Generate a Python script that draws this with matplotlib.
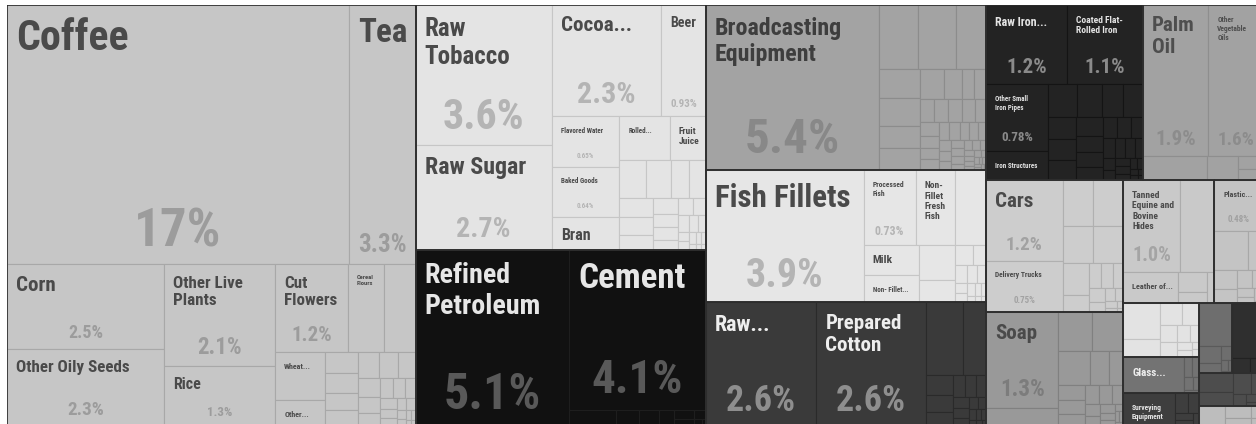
import matplotlib
matplotlib.use("Agg")
import matplotlib.pyplot as plt
from matplotlib.patches import Rectangle
from matplotlib import font_manager as fm

# ---------------- data: export shares (%) ----------------
veg_labels = ["Coffee", "Tea", "Corn", "Other Oily Seeds", "Other Live Plants", "Rice",
              "Cut Flowers", "Cereal Flours", "Wheat...", "Other..."]
veg_shares = [16.8, 3.27, 2.5, 2.3, 2.14, 1.27, 1.21, 0.60, 0.45, 0.24]
veg_small = [0.53, 0.13, 0.13, 0.11, 0.10, 0.10, 0.095, 0.085, 0.075, 0.065, 0.055, 0.05,
             0.045, 0.04, 0.035, 0.03, 0.025, 0.02, 0.02, 0.015, 0.012, 0.01, 0.008, 0.006, 0.005]

food_labels = ["Raw Tobacco", "Raw Sugar", "Cocoa...", "Beer", "Flavored Water", "Baked Goods",
               "Bran", "Rolled...", "Fruit Juice"]
food_shares = [3.6, 2.72, 2.31, 0.93, 0.65, 0.64, 0.43, 0.42, 0.30]
food_small = [0.19, 0.18, 0.13, 0.12, 0.12, 0.11, 0.095, 0.076, 0.065, 0.06, 0.05, 0.045, 0.04,
              0.035, 0.03, 0.025, 0.02, 0.018, 0.015, 0.012, 0.01, 0.008, 0.006, 0.005]

mineral_labels = ["Refined Petroleum", "Cement"]
mineral_shares = [5.12, 4.14]
mineral_small = [0.14, 0.07, 0.06, 0.045, 0.035, 0.025, 0.02, 0.01, 0.005]

machine_labels = ["Broadcasting Equipment"]
machine_shares = [5.43]
machine_small = [0.47, 0.47, 0.36, 0.22, 0.22, 0.17, 0.17, 0.14, 0.10, 0.07, 0.07, 0.065, 0.06,
                 0.06, 0.055, 0.05, 0.05, 0.045, 0.04, 0.04, 0.035, 0.035, 0.03, 0.03, 0.028,
                 0.025, 0.025, 0.022, 0.02, 0.02, 0.018, 0.016, 0.015, 0.014, 0.012, 0.012, 0.01,
                 0.01, 0.009, 0.008, 0.007, 0.006, 0.005, 0.005, 0.004, 0.004, 0.003, 0.003]

animal_labels = ["Fish Fillets", "Processed Fish", "Non-Fillet Fresh Fish", "Milk", "Non- Fillet..."]
animal_shares = [3.94, 0.73, 0.55, 0.32, 0.28]
animal_small = [0.44, 0.24, 0.15, 0.07, 0.05, 0.04, 0.035, 0.03, 0.025, 0.02, 0.02, 0.015,
                0.012, 0.01, 0.008, 0.006]

textile_labels = ["Raw...", "Prepared Cotton"]
textile_shares = [2.6, 2.56]
textile_small = [0.52, 0.32, 0.10, 0.09, 0.07, 0.05, 0.045, 0.04, 0.035, 0.03, 0.025, 0.02,
                 0.018, 0.015, 0.012, 0.01, 0.008, 0.006, 0.005]

metal_labels = ["Raw Iron...", "Coated Flat-Rolled Iron", "Other Small Iron Pipes", "Iron Structures"]
metal_shares = [1.22, 1.14, 0.78, 0.34]
metal_small = [0.18, 0.156, 0.125, 0.125, 0.12, 0.115, 0.11, 0.095, 0.08, 0.075, 0.065, 0.06,
               0.055, 0.05, 0.045, 0.04, 0.035, 0.03, 0.028, 0.025, 0.022, 0.02, 0.018, 0.015,
               0.012, 0.01, 0.008, 0.006, 0.005]

fat_labels = ["Palm Oil", "Other Vegetable Oils"]
fat_shares = [1.87, 1.6]
fat_small = [0.29, 0.14, 0.06, 0.05, 0.01]

transport_labels = ["Cars", "Delivery Trucks"]
transport_shares = [1.17, 0.75]
transport_small = [0.26, 0.26, 0.21, 0.21, 0.16, 0.085, 0.06, 0.055, 0.05, 0.04, 0.03, 0.025,
                   0.02, 0.015, 0.01, 0.008, 0.005]

chemical_labels = ["Soap"]
chemical_shares = [1.31]
chemical_small = [0.25, 0.25, 0.23, 0.2, 0.12, 0.09, 0.08, 0.07, 0.06, 0.05, 0.045, 0.04, 0.035,
                  0.03, 0.025, 0.02, 0.015, 0.012, 0.01, 0.008, 0.006]

hide_labels = ["Tanned Equine and Bovine Hides", "Leather of..."]
hide_shares = [1.0, 0.32]
hide_small = [0.59, 0.11, 0.06, 0.04]

plastic_labels = ["Plastic..."]
plastic_shares = [0.48]
plastic_small = [0.25, 0.12, 0.08, 0.06, 0.05, 0.04, 0.03, 0.02, 0.015, 0.01, 0.005]

paper_small = [0.245, 0.13, 0.09, 0.07, 0.06, 0.05, 0.04, 0.03, 0.025, 0.02, 0.01, 0.008, 0.002]

glass_labels = ["Glass..."]
glass_shares = [0.42]
glass_small = [0.03, 0.025, 0.02, 0.015, 0.01]

instrument_labels = ["Surveying Equipment"]
instrument_shares = [0.32]
instrument_small = [0.05, 0.04, 0.025, 0.02, 0.015]

wood_small = [0.27, 0.07, 0.04, 0.03, 0.015, 0.01, 0.005]
precious_small = [0.33, 0.05, 0.04]
misc_small = [0.12, 0.09, 0.07, 0.05, 0.03, 0.02, 0.01, 0.01]
footwear_small = [0.10, 0.06, 0.04, 0.03, 0.02]

groups = [
    ("Vegetable Products", veg_labels, veg_shares, veg_small),
    ("Foodstuffs", food_labels, food_shares, food_small),
    ("Mineral Products", mineral_labels, mineral_shares, mineral_small),
    ("Machines", machine_labels, machine_shares, machine_small),
    ("Animal Products", animal_labels, animal_shares, animal_small),
    ("Textiles", textile_labels, textile_shares, textile_small),
    ("Metals", metal_labels, metal_shares, metal_small),
    ("Animal and Vegetable Bi-Products", fat_labels, fat_shares, fat_small),
    ("Transportation", transport_labels, transport_shares, transport_small),
    ("Chemical Products", chemical_labels, chemical_shares, chemical_small),
    ("Animal Hides", hide_labels, hide_shares, hide_small),
    ("Plastics and Rubbers", plastic_labels, plastic_shares, plastic_small),
    ("Paper Goods", [], [], paper_small),
    ("Stone and Glass", glass_labels, glass_shares, glass_small),
    ("Instruments", instrument_labels, instrument_shares, instrument_small),
    ("Wood Products", [], [], wood_small),
    ("Precious Metals", [], [], precious_small),
    ("Miscellaneous", [], [], misc_small),
    ("Footwear and Headwear", [], [], footwear_small),
]

# ---------------- styles ----------------
GROUP_STYLE = {
    "Vegetable Products": ("#c6c6c6", "#a8a8a8", "#4a4a4a", "#9c9c9c"),
    "Foodstuffs": ("#e4e4e4", "#c6c6c6", "#4a4a4a", "#b4b4b4"),
    "Mineral Products": ("#111111", "#1e1e1e", "#e6e6e6", "#595959"),
    "Machines": ("#a3a3a3", "#8c8c8c", "#3e3e3e", "#888888"),
    "Animal Products": ("#e6e6e6", "#c6c6c6", "#4a4a4a", "#b4b4b4"),
    "Textiles": ("#3a3a3a", "#2a2a2a", "#eeeeee", "#8e8e8e"),
    "Metals": ("#232323", "#141414", "#e4e4e4", "#8a8a8a"),
    "Animal and Vegetable Bi-Products": ("#a2a2a2", "#8e8e8e", "#4e4e4e", "#8c8c8c"),
    "Transportation": ("#cdcdcd", "#b0b0b0", "#4a4a4a", "#a2a2a2"),
    "Chemical Products": ("#999999", "#808080", "#4a4a4a", "#7c7c7c"),
    "Animal Hides": ("#c9c9c9", "#acacac", "#4a4a4a", "#a4a4a4"),
    "Plastics and Rubbers": ("#c4c4c4", "#a8a8a8", "#4a4a4a", "#a0a0a0"),
    "Paper Goods": ("#e3e3e3", "#c4c4c4", "#4a4a4a", "#b4b4b4"),
    "Stone and Glass": ("#737373", "#5e5e5e", "#eeeeee", "#a0a0a0"),
    "Instruments": ("#3e3e3e", "#2c2c2c", "#e6e6e6", "#8a8a8a"),
    "Wood Products": ("#6e6e6e", "#5a5a5a", "#eeeeee", "#999999"),
    "Precious Metals": ("#2f2f2f", "#222222", "#eeeeee", "#888888"),
    "Miscellaneous": ("#4d4d4d", "#3c3c3c", "#eeeeee", "#8a8a8a"),
    "Footwear and Headwear": ("#bdbdbd", "#a0a0a0", "#4a4a4a", "#999999"),
}

# label text sizes in pixels: (name size, share size or None)
LABEL_PX = {
    "Coffee": (42, 53), "Tea": (33, 25), "Corn": (21, 18), "Other Live Plants": (17, 23),
    "Cut Flowers": (17, 21), "Cereal Flours": (6.5, None), "Other Oily Seeds": (17, 19),
    "Rice": (16, 13), "Wheat...": (8, None), "Other...": (8, None),
    "Raw Tobacco": (25, 42), "Raw Sugar": (24, 28), "Cocoa...": (21, 30), "Beer": (14, 11),
    "Flavored Water": (7, 7), "Rolled...": (7, None), "Fruit Juice": (9.5, None),
    "Baked Goods": (7, 7), "Bran": (16, None),
    "Refined Petroleum": (28, 50), "Cement": (35, 47),
    "Broadcasting Equipment": (24, 49),
    "Fish Fillets": (31, 40), "Processed Fish": (7.5, 12), "Non-Fillet Fresh Fish": (9.5, None),
    "Milk": (11.5, None), "Non- Fillet...": (7, None),
    "Raw...": (22, 36), "Prepared Cotton": (21, 36),
    "Raw Iron...": (12, 21), "Coated Flat-Rolled Iron": (9.5, 21),
    "Other Small Iron Pipes": (7, 13), "Iron Structures": (7, None),
    "Palm Oil": (21, 21), "Other Vegetable Oils": (7.5, 19),
    "Cars": (21, 19), "Delivery Trucks": (7.5, 9),
    "Tanned Equine and Bovine Hides": (9.5, 20), "Leather of...": (8.5, None),
    "Plastic...": (8, 9), "Soap": (21, 23), "Glass...": (11, None),
    "Surveying Equipment": (7.5, None),
}
WRAP = {
    "Other Live Plants": "Other Live\nPlants", "Cut Flowers": "Cut\nFlowers",
    "Cereal Flours": "Cereal\nFlours", "Raw Tobacco": "Raw\nTobacco",
    "Fruit Juice": "Fruit\nJuice", "Refined Petroleum": "Refined\nPetroleum",
    "Broadcasting Equipment": "Broadcasting\nEquipment", "Processed Fish": "Processed\nFish",
    "Non-Fillet Fresh Fish": "Non-\nFillet\nFresh\nFish", "Prepared Cotton": "Prepared\nCotton",
    "Coated Flat-Rolled Iron": "Coated Flat-\nRolled Iron",
    "Other Small Iron Pipes": "Other Small\nIron Pipes", "Palm Oil": "Palm\nOil",
    "Other Vegetable Oils": "Other\nVegetable\nOils",
    "Tanned Equine and Bovine Hides": "Tanned\nEquine and\nBovine\nHides",
    "Surveying Equipment": "Surveying\nEquipment",
}

avail = {f.name for f in fm.fontManager.ttflist}
FONT = "Liberation Sans"
for cand in ["Liberation Sans Narrow", "Roboto Condensed", "Open Sans Condensed", "Liberation Sans"]:
    if cand in avail:
        FONT = cand
        break
FONTS = [FONT, "DejaVu Sans"]

PHI = (1 + 5 ** 0.5) / 2


def squarify(values, x0, y0, x1, y1):
    """d3.treemapSquarify (golden ratio) for values sorted descending."""
    rects = [None] * len(values)
    n = len(values)
    i0 = i1 = 0
    value = float(sum(values))
    while i0 < n:
        dx, dy = x1 - x0, y1 - y0
        sumv = values[i1]
        i1 += 1
        minv = maxv = sumv
        alpha = max(dy / dx, dx / dy) / (value * PHI)
        beta = sumv * sumv * alpha
        minr = max(maxv / beta, beta / minv)
        while i1 < n:
            nv = values[i1]
            sumv += nv
            minv = min(minv, nv)
            maxv = max(maxv, nv)
            beta = sumv * sumv * alpha
            newr = max(maxv / beta, beta / minv)
            if newr > minr:
                sumv -= nv
                break
            minr = newr
            i1 += 1
        if dx < dy:
            yb = y0 + dy * sumv / value
            xx = x0
            for i in range(i0, i1):
                w = (x1 - x0) * values[i] / sumv
                rects[i] = (xx, y0, xx + w, yb)
                xx += w
            y0 = yb
        else:
            xb = x0 + dx * sumv / value
            yy = y0
            for i in range(i0, i1):
                h = (y1 - y0) * values[i] / sumv
                rects[i] = (x0, yy, xb, yy + h)
                yy += h
            x0 = xb
        value -= sumv
        i0 = i1
    return rects


def fmt_share(v):
    if v >= 10:
        return f"{v:.0f}%"
    if v >= 1:
        return f"{v:.1f}%"
    return f"{v:.2f}%"


FIG_W, FIG_H = 1256, 424
W, H = 1257.0, 421.0
PT = 72.0 / 100.0

fig = plt.figure(figsize=(FIG_W / 100, FIG_H / 100), dpi=100, facecolor="white")
ax = fig.add_axes([7 / FIG_W, (FIG_H - 426) / FIG_H, W / FIG_W, H / FIG_H])
ax.set_xlim(0, W)
ax.set_ylim(H, 0)
ax.axis("off")

gvals = [sum(g[2]) + sum(g[3]) for g in groups]
order = sorted(range(len(groups)), key=lambda i: -gvals[i])
grects = squarify([gvals[i] for i in order], 0.0, 0.0, W, H)

title_texts = []
for gi, (gx0, gy0, gx1, gy1) in zip(order, grects):
    gname, labels, shares, small = groups[gi]
    fill, edge, tcol, scol = GROUP_STYLE[gname]
    items = list(zip(labels, shares)) + [(None, v) for v in small]
    items.sort(key=lambda it: -it[1])
    rects = squarify([it[1] for it in items], gx0, gy0, gx1, gy1)
    for (name, v), (x0, y0, x1, y1) in zip(items, rects):
        ax.add_patch(Rectangle((x0, y0), x1 - x0, y1 - y0, facecolor=fill,
                               edgecolor=edge, linewidth=0.8))
        if name is None or name not in LABEL_PX:
            continue
        tpx, spx = LABEL_PX[name]
        t = ax.text(x0 + 9, y0 + 10 + 0.07 * tpx, WRAP.get(name, name), family=FONTS,
                    fontsize=tpx * PT, fontweight="bold", color=tcol, ha="left", va="top",
                    linespacing=1.2, zorder=5)
        title_texts.append((t, (x1 - x0) - 14))
        if spx:
            ax.text((x0 + x1) / 2, y1 - (7 + 0.21 * spx), fmt_share(v), family=FONTS,
                    fontsize=spx * PT, fontweight="bold", color=scol, ha="center",
                    va="baseline", zorder=5)
    ax.add_patch(Rectangle((gx0, gy0), gx1 - gx0, gy1 - gy0, facecolor="none",
                           edgecolor="#2e2e2e", linewidth=1.2, zorder=4))

fig.canvas.draw()
renderer = fig.canvas.get_renderer()
for t, maxw in title_texts:
    bb = t.get_window_extent(renderer=renderer)
    if bb.width > maxw > 0:
        t.set_fontsize(t.get_fontsize() * maxw / bb.width)

fig.savefig("out.png", dpi=100, facecolor="white")
